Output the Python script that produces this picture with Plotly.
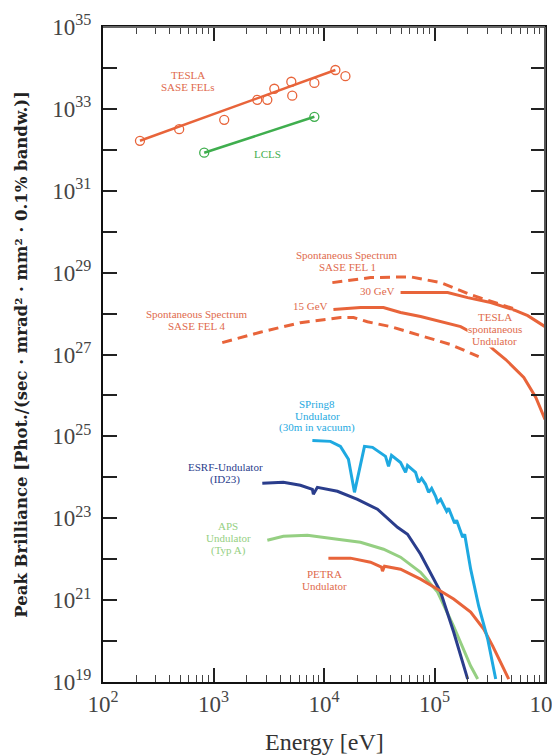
import plotly.graph_objects as go

# ---------------- data (energy in eV, peak brilliance) ----------------
tesla_fel_E = [216, 489, 1250, 2490, 3070, 3550, 5060, 5160, 8180, 12680, 15630]
tesla_fel_B = [1.66e32, 3.2e32, 5.4e32, 1.66e33, 1.66e33, 3.1e33, 4.6e33, 2.1e33, 4.3e33, 8.9e33, 6.3e33]
tesla_fit_E = [216, 12680]
tesla_fit_B = [1.66e32, 8.9e33]

lcls_E = [824, 8180]
lcls_B = [8.5e31, 6.4e32]

fel1_E = [11900, 26400, 60700, 113600, 212000, 397000, 543000]
fel1_B = [5.7e28, 7.55e28, 7.9e28, 5.7e28, 2.9e28, 1.66e28, 1.26e28]

fel4_E = [1200, 2650, 6100, 14100, 18500, 24700, 40000, 70300, 140000, 251000]
fel4_B = [1.95e27, 3.5e27, 6.0e27, 8.0e27, 8.0e27, 6.3e27, 4.8e27, 3.1e27, 1.75e27, 8.9e26]

gev30_E = [49300, 131500, 199600, 322700, 543000, 698000, 1.0e6]
gev30_B = [3.25e28, 3.25e28, 2.45e28, 1.86e28, 1.18e28, 8.9e27, 4.8e27]

gev15_E = [12170, 21400, 34500, 49300, 74800, 172500, 262000, 343000, 441000, 643000, 826000, 1.0e6]
gev15_B = [1.26e28, 1.4e28, 1.4e28, 1.06e28, 8.5e27, 4.8e27, 2.6e27, 1.32e27, 7.55e26, 2.75e26, 8.9e25, 2.6e25]

spring8_E = [7850, 11430, 14090, 16640, 18870, 23240, 27480, 36040, 38370, 40840, 49300, 54700,
             57000, 67400, 71760, 76400, 83000, 88400, 94200, 102300, 106700, 113600, 123500,
             128800, 134200, 145900, 152100, 158500, 172500, 179800, 187500, 212500, 251300,
             303000, 358000]
spring8_B = [7.98e24, 7.55e24, 5.7e24, 2.75e24, 4.3e23, 5.7e24, 5.4e24, 3.25e24, 1.85e24, 3.44e24,
             2.3e24, 1.32e24, 1.96e24, 1.32e24, 7.55e23, 9.46e23, 6.75e23, 4.3e23, 5.4e23, 3.44e23,
             2.45e23, 2.9e23, 1.85e23, 1.48e23, 1.75e23, 1.06e23, 7.55e22, 8.9e22, 4.8e22, 3.44e22,
             4.07e22, 5.7e21, 7.1e20, 1.12e20, 1.18e19]

esrf_E = [2764, 4285, 6110, 7850, 8010, 8710, 13220, 20090, 30480, 46260, 57000, 74800, 113600,
          149000, 199600]
esrf_B = [7.14e23, 7.55e23, 6.4e23, 5.1e23, 3.85e23, 5.7e23, 4.56e23, 2.9e23, 1.66e23, 6.0e22,
          4.07e22, 1.32e22, 1.57e21, 1.66e20, 1.18e19]

aps_E = [3070, 4285, 7070, 9270, 13220, 21380, 34590, 49300, 74800, 106700, 149000, 212500, 246000]
aps_B = [2.9e22, 3.64e22, 3.85e22, 3.44e22, 3.08e22, 2.6e22, 1.75e22, 1.12e22, 4.8e21, 1.57e21,
         2.3e20, 2.45e19, 1.18e19]

petra_E = [10960, 17350, 26360, 33120, 33840, 35290, 49300, 74800, 106700, 149000, 212500, 278600,
           336500, 414200, 469700]
petra_B = [1.06e22, 1.06e22, 8.45e21, 6.4e21, 5.1e21, 6.75e21, 5.7e21, 3.25e21, 1.85e21, 1.06e21,
           5.1e20, 1.96e20, 7.55e19, 2.45e19, 1.18e19]

y_exponents = list(range(19, 36))
x_exponents = [2, 3, 4, 5, 6]

# ---------------- styling ----------------
ORANGE = "#e8643a"
ORANGE_TXT = "#e06a4c"
GREEN = "#3fae4e"
LBLUE = "#1ea9e1"
DBLUE = "#2a3d8c"
LGREEN = "#95cf82"
SERIF = "Liberation Serif"

fig = go.Figure()


def line(x, y, color, width=3, dash=None, mode="lines", marker=None):
    fig.add_trace(go.Scatter(x=x, y=y, mode=mode,
                             line=dict(color=color, width=width, dash=dash),
                             marker=marker, showlegend=False, hoverinfo="skip"))


line(tesla_fit_E, tesla_fit_B, ORANGE, width=2.5)
fig.add_trace(go.Scatter(x=tesla_fel_E, y=tesla_fel_B, mode="markers",
                         marker=dict(symbol="circle-open", size=9, color=ORANGE, line=dict(width=1.3)),
                         showlegend=False, hoverinfo="skip"))
line(lcls_E, lcls_B, GREEN, width=2.5, mode="lines+markers",
     marker=dict(symbol="circle-open", size=9, color=GREEN, line=dict(width=1.3)))

line(fel1_E, fel1_B, ORANGE, width=3, dash="10px,6px")
line(fel4_E, fel4_B, ORANGE, width=3, dash="10px,6px")
line(gev30_E, gev30_B, ORANGE, width=3)
line(gev15_E, gev15_B, ORANGE, width=3)

line(aps_E, aps_B, LGREEN, width=3)
line(esrf_E, esrf_B, DBLUE, width=3)
line(petra_E, petra_B, ORANGE, width=3)
line(spring8_E, spring8_B, LBLUE, width=3)


def label(lines, lx, ly, color, size=11, bg=None):
    n = len(lines)
    for i, t in enumerate(lines):
        fig.add_annotation(x=lx, y=ly, text=t, showarrow=False,
                           yshift=((n - 1) / 2 - i) * 12,
                           font=dict(family=SERIF, size=size, color=color),
                           bgcolor=bg, borderpad=0)


label(["TESLA", "SASE FELs"], 2.771, 33.68, ORANGE_TXT)
label(["LCLS"], 3.487, 31.90, GREEN)
label(["Spontaneous Spectrum", "SASE FEL 1"], 4.212, 29.29, ORANGE_TXT)
label(["Spontaneous Spectrum", "SASE FEL 4"], 2.852, 27.85, ORANGE_TXT)
label(["30 GeV"], 4.484, 28.56, ORANGE_TXT, bg="white")
label(["15 GeV"], 3.877, 28.195, ORANGE_TXT)
label(["TESLA", "spontaneous", "Undulator"], 5.545, 27.63, ORANGE_TXT, bg="white")
label(["SPring8", "Undulator", "(30m in vacuum)"], 3.94, 25.51, LBLUE)
label(["ESRF-Undulator", "(ID23)"], 3.106, 24.10, DBLUE)
label(["APS", "Undulator", "(Typ A)"], 3.133, 22.51, LGREEN)
label(["PETRA", "Undulator"], 4.004, 21.49, ORANGE_TXT)

# axis titles as annotations
fig.add_annotation(xref="paper", yref="paper", x=-0.185, y=0.5, textangle=-90,
                   text="<b>Peak Brilliance [Phot./(sec · mrad² · mm² · 0.1% bandw.)]</b>",
                   showarrow=False, font=dict(family="DejaVu Serif", size=16.5, color="#222"),
                   xanchor="center", yanchor="middle")
fig.add_annotation(xref="paper", yref="paper", x=0.5, y=-0.092,
                   text="Energy [eV]", showarrow=False,
                   font=dict(family=SERIF, size=24, color="#333"),
                   xanchor="center", yanchor="middle")

minor_x = [float(m) * 10.0 ** e for e in range(2, 6) for m in range(2, 10)]

fig.update_xaxes(type="log", range=[2, 6], automargin=False,
                 tickvals=[10.0 ** e for e in x_exponents],
                 ticktext=[f"10<sup>{e}</sup>" for e in x_exponents],
                 ticklabeloverflow="allow",
                 ticks="inside", ticklen=14, tickwidth=1.5, tickcolor="#222",
                 minor=dict(tickvals=minor_x, ticks="inside", ticklen=7, tickwidth=1.2, tickcolor="#444"),
                 showline=True, linecolor="#111", linewidth=2, mirror="ticks",
                 showgrid=False, zeroline=False,
                 tickfont=dict(family=SERIF, size=23, color="#444"))
fig.update_yaxes(type="log", range=[19, 35], automargin=False,
                 tickvals=[10.0 ** e for e in y_exponents],
                 ticktext=[f"10<sup>{e}</sup>" if e % 2 else "" for e in y_exponents],
                 ticks="inside", ticklen=14, tickwidth=2, tickcolor="#222",
                 ticklabelstandoff=5,
                 showline=True, linecolor="#111", linewidth=2, mirror="ticks",
                 showgrid=False, zeroline=False,
                 tickfont=dict(family=SERIF, size=23, color="#444"))

# lighter top/right frame
fig.add_shape(type="line", xref="paper", yref="paper", x0=0, x1=1, y0=1, y1=1,
              line=dict(color="#666", width=2))
fig.add_shape(type="line", xref="paper", yref="paper", x0=1, x1=1, y0=0, y1=1,
              line=dict(color="#555", width=2))

# the page adds an 8px body margin, so the figure is sized/offset to compensate
fig.update_layout(width=552, height=748,
                  margin=dict(l=95, r=15, t=19, b=74),
                  paper_bgcolor="white", plot_bgcolor="white")

fig.write_html("out.html")
